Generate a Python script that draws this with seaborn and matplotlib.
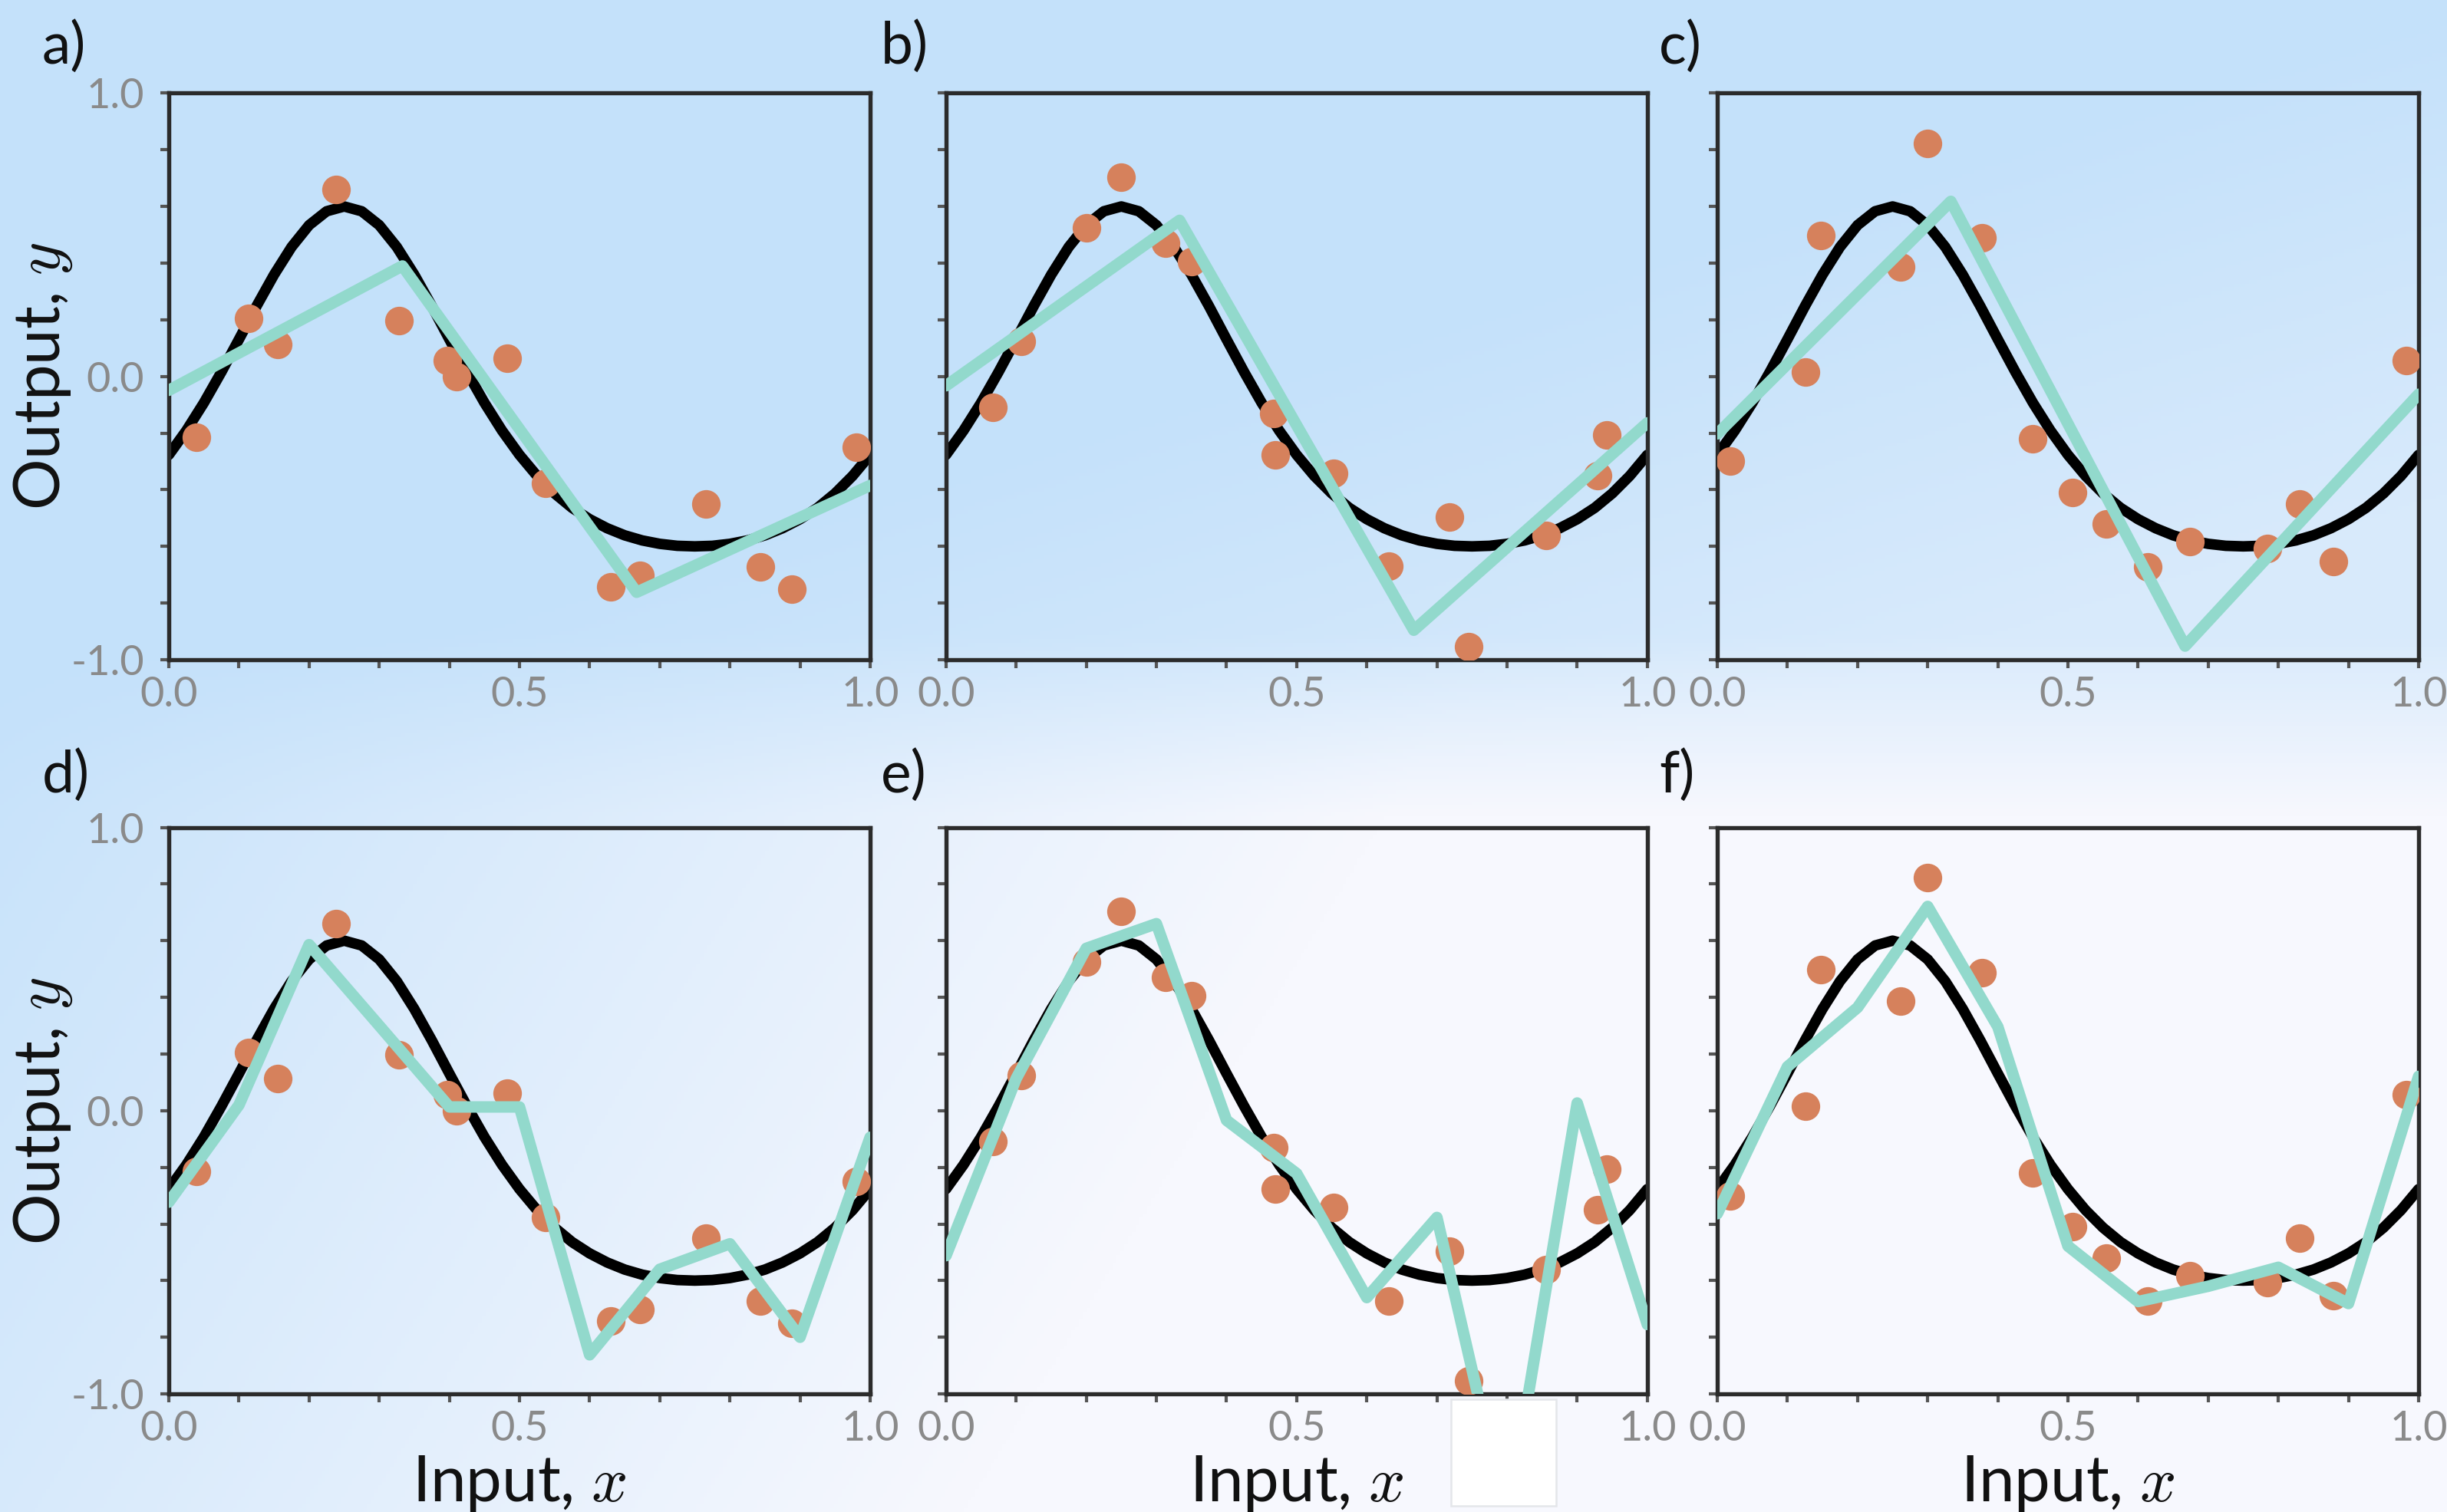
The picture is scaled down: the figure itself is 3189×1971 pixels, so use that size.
import numpy as np
import matplotlib
matplotlib.use("Agg")
import matplotlib.pyplot as plt
import seaborn as sns
from matplotlib.patches import Rectangle
from matplotlib.ticker import MultipleLocator

# ---------------------------------------------------------------- data
# underlying function, sampled every 0.025
curve_x = [0.0, 0.025, 0.05, 0.075, 0.1, 0.125, 0.15, 0.175, 0.2, 0.225,
           0.25, 0.275, 0.3, 0.325, 0.35, 0.375, 0.4, 0.425, 0.45, 0.475,
           0.5, 0.525, 0.55, 0.575, 0.6, 0.625, 0.65, 0.675, 0.7, 0.725,
           0.75, 0.775, 0.8, 0.825, 0.85, 0.875, 0.9, 0.925, 0.95, 0.975, 1.0]
curve_y = [-0.277, -0.191, -0.093, 0.016, 0.131, 0.248, 0.359, 0.457, 0.534, 0.583,
           0.600, 0.583, 0.534, 0.457, 0.359, 0.248, 0.131, 0.016, -0.093, -0.191,
           -0.277, -0.351, -0.413, -0.464, -0.504, -0.536, -0.561, -0.579, -0.591, -0.598,
           -0.600, -0.598, -0.591, -0.579, -0.561, -0.536, -0.504, -0.464, -0.413, -0.351,
           -0.277]

# three noisy training sets
data1_x = [0.039, 0.114, 0.155, 0.238, 0.328, 0.397, 0.410, 0.483, 0.537, 0.630,
           0.672, 0.766, 0.844, 0.888, 0.980]
data1_y = [-0.215, 0.204, 0.112, 0.661, 0.196, 0.055, 0.0, 0.063, -0.377, -0.743,
           -0.703, -0.450, -0.672, -0.750, -0.249]
data2_x = [0.067, 0.107, 0.200, 0.250, 0.313, 0.350, 0.467, 0.469, 0.553, 0.631,
           0.718, 0.745, 0.856, 0.929, 0.942]
data2_y = [-0.109, 0.125, 0.524, 0.703, 0.471, 0.405, -0.130, -0.276, -0.342, -0.671,
           -0.496, -0.953, -0.561, -0.349, -0.207]
data3_x = [0.019, 0.126, 0.148, 0.262, 0.300, 0.377, 0.450, 0.506, 0.555, 0.614,
           0.674, 0.784, 0.830, 0.878, 0.982]
data3_y = [-0.300, 0.016, 0.497, 0.386, 0.822, 0.488, -0.219, -0.410, -0.520, -0.673,
           -0.583, -0.608, -0.451, -0.654, 0.057]

# fitted piecewise-linear models: 3 regions (top row), 10 regions (bottom row)
knots3 = [0.0, 0.333, 0.667, 1.0]
fit3_a = [-0.049, 0.390, -0.762, -0.385]
fit3_b = [-0.033, 0.551, -0.896, -0.164]
fit3_c = [-0.203, 0.618, -0.952, -0.063]

knots10 = [0.0, 0.1, 0.2, 0.3, 0.4, 0.5, 0.6, 0.7, 0.8, 0.9, 1.0]
fit10_d = [-0.323, 0.020, 0.586, 0.300, 0.013, 0.013, -0.862, -0.560, -0.470, -0.800, -0.094]
fit10_e = [-0.512, 0.113, 0.573, 0.660, -0.034, -0.222, -0.660, -0.377, -1.450, 0.027, -0.755]
fit10_f = [-0.364, 0.155, 0.364, 0.721, 0.296, -0.478, -0.674, -0.620, -0.553, -0.681, 0.121]

panel_labels = ["a)", "b)", "c)", "d)", "e)", "f)"]
x_ticklabels = ["0.0", "0.5", "1.0"]
y_ticklabels = ["-1.0", "0.0", "1.0"]
x_title = "Input, $x$"
y_title = "Output, $y$"

# ---------------------------------------------------------------- style
sns.set_theme(style="ticks")
plt.rcParams["font.family"] = ["Lato", "DejaVu Sans"]
plt.rcParams["mathtext.fontset"] = "cm"

DOT = "#d6815c"
FIT = "#92d9cc"
TICKLABEL = "#8a8a8a"
SPINE = "#2b2b2b"

fig = plt.figure(figsize=(10.63, 6.57), dpi=300)

# soft blue-to-white backdrop
bg = fig.add_axes([0, 0, 1, 1], zorder=-10)
H, W = 400, 640
yy, xx = np.mgrid[0:1:H * 1j, 0:1:W * 1j]
upper = np.clip(0.6 * (xx - 0.5) + 1.2 * (yy - 0.25), 0, 0.4)
lower = np.clip(0.15 + 1.6 * (xx - 0.05) + 0.6 * (yy - 0.5), 0, 1)
s = np.clip((yy - 0.42) / 0.12, 0, 1)
w = (1 - s) * upper + s * lower
blue = np.array([196, 225, 250]) / 255.0
white = np.array([247, 248, 254]) / 255.0
rgb = blue[None, None, :] * (1 - w[..., None]) + white[None, None, :] * w[..., None]
bg.imshow(rgb, aspect="auto", extent=[0, 1, 0, 1], origin="upper")
bg.set_xlim(0, 1)
bg.set_ylim(0, 1)
bg.axis("off")

col_left = [0.0690, 0.3866, 0.7018]
ax_w = 0.2866
row_bottom = [0.5637, 0.0781]
ax_h = 0.3747

datasets = [(data1_x, data1_y), (data2_x, data2_y), (data3_x, data3_y)]
fits = [(knots3, fit3_a), (knots3, fit3_b), (knots3, fit3_c),
        (knots10, fit10_d), (knots10, fit10_e), (knots10, fit10_f)]

label_pos = [(0.0172, 0.969), (0.3600, 0.969), (0.6780, 0.969),
             (0.0172, 0.487), (0.3600, 0.487), (0.6780, 0.487)]

for i in range(6):
    r, c = divmod(i, 3)
    ax = fig.add_axes([col_left[c], row_bottom[r], ax_w, ax_h])
    ax.set_facecolor("none")
    dx, dy = datasets[c]
    kx, ky = fits[i]

    sns.lineplot(x=curve_x, y=curve_y, ax=ax, color="black", linewidth=3.3,
                 estimator=None, sort=False, zorder=2)
    sns.scatterplot(x=dx, y=dy, ax=ax, color=DOT, s=80, linewidth=0, zorder=3)
    sns.lineplot(x=kx, y=ky, ax=ax, color=FIT, linewidth=3.6,
                 estimator=None, sort=False, zorder=4)

    ax.set_xlim(0, 1)
    ax.set_ylim(-1, 1)
    ax.set_xticks([0, 0.5, 1])
    ax.set_xticklabels(x_ticklabels)
    ax.xaxis.set_minor_locator(MultipleLocator(0.1))
    ax.set_yticks([-1, 0, 1])
    ax.yaxis.set_minor_locator(MultipleLocator(0.2))
    if c == 0:
        ax.set_yticklabels(y_ticklabels)
        ax.set_ylabel(y_title, fontsize=20, color="#111111")
        ax.yaxis.set_label_coords(-0.135, 0.5)
    else:
        ax.set_yticklabels([])
        ax.set_ylabel("")
    if r == 1:
        ax.set_xlabel(x_title, fontsize=20, color="#111111")
        ax.xaxis.set_label_coords(0.5, -0.105)
    else:
        ax.set_xlabel("")

    ax.tick_params(axis="both", which="both", direction="out", length=2.6,
                   width=1.0, color="#555555", labelcolor=TICKLABEL, labelsize=13)
    ax.tick_params(axis="x", which="both", pad=2.5)
    ax.tick_params(axis="y", which="both", pad=5)
    for sp in ax.spines.values():
        sp.set_visible(True)
        sp.set_color(SPINE)
        sp.set_linewidth(1.3)

    lx, ly = label_pos[i]
    fig.text(lx, ly, panel_labels[i], fontsize=18, color="#111111",
             ha="left", va="center")

# small blank patch along the lower edge
fig.add_artist(Rectangle((0.593, 0.004), 0.043, 0.0705, transform=fig.transFigure,
                         facecolor="white", edgecolor="#e4e6ea", linewidth=0.6,
                         zorder=5))

fig.savefig("out.png", dpi=300)
